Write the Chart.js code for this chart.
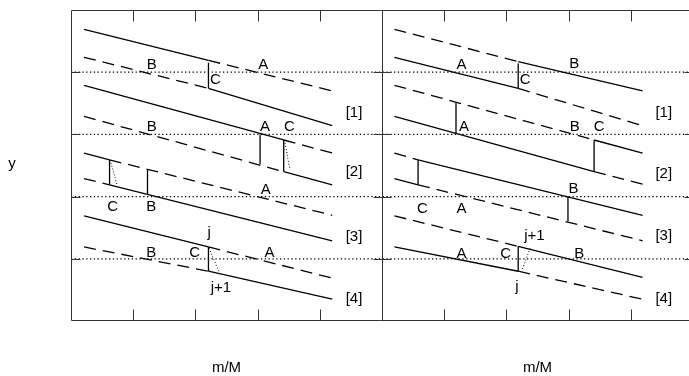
<!DOCTYPE html>
<html>
<head>
<meta charset="utf-8">
<script src="https://cdn.jsdelivr.net/npm/chart.js@4.4.1/dist/chart.umd.min.js"></script>
<style>
    html, body { margin: 0; padding: 0; background: #fff; }
    canvas { display: block; }
</style>
</head>
<body>
<canvas id="myChart" width="689" height="376"></canvas>
<script>
    /**
     * Data (axis units: each panel is 5 x 5, right panel spans x = 5..10)
     */

    var xTicks = [1, 2, 3, 4, 6, 7, 8, 9];
    var yLevels = [1, 2, 3, 4];
    var panelEdges = [0, 5, 10];
    var xMax = 9.936;
    var xTitle = 'm/M';
    var yTitle = 'y';

    // segments: [x0, y0, x1, y1]
    var solidLines = [
        // left panel
        [0.21, 4.69, 2.21, 4.19], [2.21, 3.74, 4.20, 3.14],
        [0.21, 3.79, 3.42, 2.91], [3.42, 2.40, 4.20, 2.19],
        [0.21, 2.70, 0.62, 2.59], [0.62, 2.19, 4.20, 1.29],
        [0.21, 1.69, 2.21, 1.19], [2.21, 0.80, 4.20, 0.35],
        // right panel
        [7.19, 4.17, 9.19, 3.70], [5.20, 4.24, 7.19, 3.74],
        [8.41, 2.91, 9.19, 2.70], [5.20, 3.29, 8.41, 2.40],
        [5.58, 2.59, 9.19, 1.70], [5.20, 2.29, 5.58, 2.19],
        [7.19, 1.20, 9.19, 0.70], [5.20, 1.19, 7.19, 0.80]
    ];

    var dashedLines = [
        // left panel
        [2.21, 4.19, 4.20, 3.70], [0.21, 4.24, 2.21, 3.74],
        [3.42, 2.91, 4.20, 2.70], [0.21, 3.29, 3.42, 2.40],
        [0.62, 2.59, 4.20, 1.70], [0.21, 2.29, 0.62, 2.19],
        [2.21, 1.19, 4.20, 0.69], [0.21, 1.19, 2.21, 0.80],
        // right panel
        [5.20, 4.69, 7.19, 4.17], [7.19, 3.74, 9.19, 3.14],
        [5.20, 3.79, 8.41, 2.91], [8.41, 2.40, 9.19, 2.20],
        [5.20, 2.70, 5.58, 2.59], [5.58, 2.19, 9.19, 1.29],
        [5.20, 1.69, 7.19, 1.20], [7.19, 0.80, 9.19, 0.35]
    ];

    var jumpLines = [
        [2.21, 4.15, 2.21, 3.74],
        [3.04, 3.00, 3.04, 2.52], [3.42, 2.91, 3.42, 2.40],
        [0.62, 2.59, 0.62, 2.19], [1.23, 2.44, 1.23, 2.04],
        [2.21, 1.19, 2.21, 0.80],
        [7.19, 4.14, 7.19, 3.74],
        [6.19, 3.51, 6.19, 3.01], [8.41, 2.91, 8.41, 2.40],
        [5.58, 2.59, 5.58, 2.19], [7.99, 2.00, 7.99, 1.60],
        [7.19, 1.20, 7.19, 0.80]
    ];

    var dottedLines = [
        [3.44, 2.86, 3.52, 2.43],
        [0.63, 2.59, 0.74, 2.19],
        [2.22, 1.17, 2.38, 0.79],
        [7.38, 1.17, 7.25, 0.81]
    ];

    // labels: [x, y, text]
    var labels = [
        [1.30, 4.12, 'B'], [3.09, 4.12, 'A'], [2.32, 3.87, 'C'], [4.55, 3.34, '[1]'],
        [1.30, 3.12, 'B'], [3.12, 3.12, 'A'], [3.51, 3.12, 'C'], [4.55, 2.40, '[2]'],
        [0.67, 1.83, 'C'], [1.29, 1.83, 'B'], [3.13, 2.11, 'A'], [4.55, 1.36, '[3]'],
        [2.22, 1.41, 'j'], [1.99, 1.10, 'C'], [1.29, 1.10, 'B'], [3.19, 1.10, 'A'],
        [2.41, 0.53, 'j+1'], [4.55, 0.36, '[4]'],
        [6.28, 4.12, 'A'], [8.09, 4.13, 'B'], [7.30, 3.87, 'C'], [9.53, 3.34, '[1]'],
        [6.32, 3.12, 'A'], [8.10, 3.12, 'B'], [8.49, 3.12, 'C'], [9.53, 2.37, '[2]'],
        [5.65, 1.81, 'C'], [6.28, 1.81, 'A'], [8.08, 2.13, 'B'], [9.53, 1.37, '[3]'],
        [6.28, 1.08, 'A'], [6.99, 1.08, 'C'], [8.17, 1.08, 'B'], [7.45, 1.37, 'j+1'],
        [7.17, 0.55, 'j'], [9.53, 0.36, '[4]']
    ];

    /**
     * Datasets
     */

    var FONT = '15px "Liberation Sans", Arial, Helvetica, sans-serif';

    function seg(p, dash, width) {
        return {
            data: [{x: p[0], y: p[1]}, {x: p[2], y: p[3]}],
            showLine: true,
            pointRadius: 0,
            borderColor: '#000',
            borderWidth: width,
            borderDash: dash,
            fill: false
        };
    }

    var datasets = [];
    yLevels.forEach(function (lv) {
        datasets.push(seg([0, lv, xMax, lv], [1.3, 2.5], 1.3));
    });
    solidLines.forEach(function (p) { datasets.push(seg(p, [], 1.3)); });
    dashedLines.forEach(function (p) { datasets.push(seg(p, [12, 7], 1.3)); });
    jumpLines.forEach(function (p) { datasets.push(seg(p, [], 1.3)); });
    dottedLines.forEach(function (p) { datasets.push(seg(p, [1, 2], 1)); });

    /**
     * Frame, ticks and texts
     */

    var framePlugin = {
        id: 'frame',
        afterDatasetsDraw: function (chart) {
            var ctx = chart.ctx;
            var sx = chart.scales.x, sy = chart.scales.y;
            var top = Math.round(sy.getPixelForValue(5)) + 0.5;
            var bottom = Math.round(sy.getPixelForValue(0)) - 0.5;
            var left = Math.round(sx.getPixelForValue(0)) + 0.5;
            var right = sx.getPixelForValue(10);

            ctx.save();
            ctx.strokeStyle = '#333';
            ctx.lineWidth = 1;
            ctx.beginPath();
            ctx.moveTo(left, top); ctx.lineTo(right, top);
            ctx.moveTo(left, bottom); ctx.lineTo(right, bottom);
            panelEdges.forEach(function (e) {
                var px = Math.round(sx.getPixelForValue(e)) + 0.5;
                ctx.moveTo(px, top); ctx.lineTo(px, bottom);
            });
            xTicks.forEach(function (t) {
                var px = Math.round(sx.getPixelForValue(t)) + 0.5;
                ctx.moveTo(px, top); ctx.lineTo(px, top + 11);
                ctx.moveTo(px, bottom); ctx.lineTo(px, bottom - 11);
            });
            // y ticks point inwards on every panel side
            yLevels.forEach(function (lv) {
                var py = Math.round(sy.getPixelForValue(lv)) + 0.5;
                panelEdges.forEach(function (e, i) {
                    var px = Math.round(sx.getPixelForValue(e)) + 0.5;
                    ctx.moveTo(i > 0 ? px - 9 : px, py);
                    ctx.lineTo(i < panelEdges.length - 1 ? px + 9 : px, py);
                });
            });
            ctx.stroke();

            ctx.fillStyle = '#000';
            ctx.font = FONT;
            ctx.textAlign = 'center';
            ctx.textBaseline = 'middle';
            labels.forEach(function (l) {
                ctx.fillText(l[2], sx.getPixelForValue(l[0]), sy.getPixelForValue(l[1]));
            });

            ctx.fillText(xTitle, sx.getPixelForValue(2.5), 368);
            ctx.fillText(xTitle, sx.getPixelForValue(7.5), 368);
            ctx.fillText(yTitle, 12, sy.getPixelForValue(2.5) - 2);
            ctx.restore();
        }
    };

    var ctx = document.getElementById('myChart').getContext('2d');
    var chart = new Chart(ctx, {
        type: 'scatter',
        data: {datasets: datasets},
        options: {
            responsive: false,
            animation: false,
            devicePixelRatio: 1,
            layout: {padding: {left: 71, top: 10, right: 0, bottom: 55}},
            plugins: {legend: {display: false}, tooltip: {enabled: false}},
            scales: {
                x: {type: 'linear', min: 0, max: xMax, display: false},
                y: {type: 'linear', min: 0, max: 5, display: false}
            }
        },
        plugins: [framePlugin]
    });
</script>
</body>
</html>
